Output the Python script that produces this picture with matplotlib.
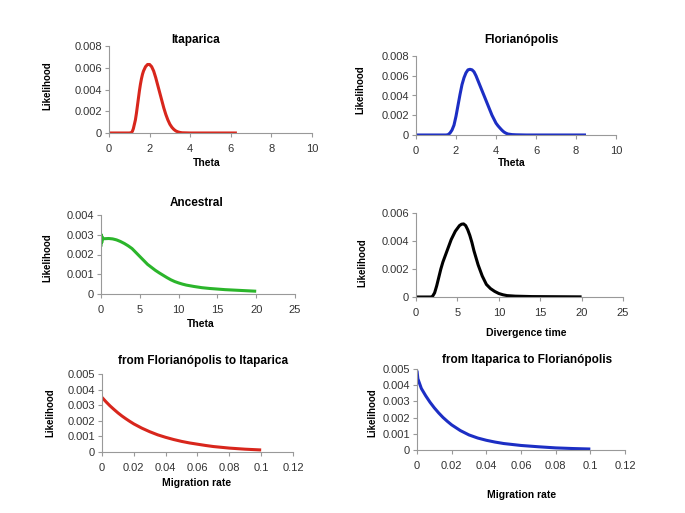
import numpy as np
import matplotlib
matplotlib.use("Agg")
import matplotlib.pyplot as plt

plt.rc("font", family=["Liberation Sans", "DejaVu Sans"])

# Itaparica theta
ita_theta = [0, 1.0, 1.1, 1.15, 1.2, 1.25, 1.3, 1.35, 1.4, 1.45, 1.5, 1.55, 1.6, 1.65, 1.7, 1.75,
             1.8, 1.9, 2.0, 2.1, 2.2, 2.3, 2.4, 2.5, 2.6, 2.7, 2.8, 2.9, 3.0, 3.1, 3.2, 3.3, 3.4,
             3.5, 3.6, 4.0, 6.3]
ita_lik = [0, 0, 0.00003, 0.00015, 0.0004, 0.0008, 0.0012, 0.0018, 0.0025, 0.0032, 0.0039, 0.0045,
           0.0050, 0.0054, 0.0057, 0.0059, 0.0061, 0.0063, 0.0063, 0.0061, 0.0057, 0.0051, 0.0044,
           0.0037, 0.0030, 0.0023, 0.0017, 0.0012, 0.0008, 0.00052, 0.00032, 0.00018, 0.0001,
           0.00005, 0.00002, 0, 0]

# Florianopolis theta
flo_theta = [0, 1.5, 1.6, 1.7, 1.8, 1.9, 2.0, 2.1, 2.2, 2.3, 2.4, 2.5, 2.6, 2.7, 2.8, 2.9, 3.0,
             3.1, 3.2, 3.3, 3.4, 3.5, 3.6, 3.7, 3.8, 3.9, 4.0, 4.1, 4.2, 4.3, 4.4, 4.5, 4.6, 4.8,
             5.0, 5.5, 8.5]
flo_lik = [0, 0, 0.00003, 0.0002, 0.0005, 0.0010, 0.0019, 0.0030, 0.0041, 0.0051, 0.0058, 0.0063,
           0.0066, 0.00665, 0.0066, 0.0064, 0.0060, 0.0055, 0.0050, 0.0045, 0.0040, 0.0035,
           0.0030, 0.0025, 0.0020, 0.0016, 0.0012, 0.00093, 0.0007, 0.00048, 0.0003, 0.00018,
           0.0001, 0.00004, 0.00002, 0, 0]

# Ancestral theta
anc_theta = [0, 0.05, 0.1, 0.15, 0.2, 0.5, 1, 1.5, 2, 2.5, 3, 3.5, 4, 4.5, 5, 5.5, 6, 6.5, 7,
             7.5, 8, 8.5, 9, 9.5, 10, 10.5, 11, 12, 13, 14, 15, 16, 17, 18, 19, 20]
anc_lik = [0.0024, 0.0030, 0.0026, 0.0029, 0.0028, 0.0028, 0.00281, 0.00279, 0.00274, 0.00266,
           0.00256, 0.00244, 0.0023, 0.0021, 0.0019, 0.0017, 0.0015, 0.00135, 0.0012, 0.00107,
           0.00095, 0.00083, 0.00072, 0.00063, 0.00056, 0.0005, 0.00045, 0.00038, 0.00032,
           0.00028, 0.00025, 0.00022, 0.0002, 0.00018, 0.00016, 0.00014]

# Divergence time
div_t = [0, 1.8, 2.0, 2.25, 2.5, 2.75, 3.0, 3.25, 3.5, 3.75, 4.0, 4.25, 4.5, 4.75, 5.0, 5.25,
         5.5, 5.75, 6.0, 6.25, 6.5, 6.75, 7.0, 7.25, 7.5, 7.75, 8.0, 8.5, 9.0, 9.5, 10, 10.5,
         11, 12, 14, 17, 20]
div_lik = [0, 0, 0.00005, 0.0003, 0.0008, 0.0014, 0.0020, 0.0025, 0.0029, 0.0033, 0.0037,
           0.0041, 0.0044, 0.0047, 0.0049, 0.0051, 0.0052, 0.00522, 0.0051, 0.0048, 0.0044,
           0.0039, 0.0033, 0.0028, 0.0023, 0.0019, 0.0015, 0.0009, 0.0006, 0.0004, 0.00025,
           0.00016, 0.0001, 0.00006, 0.00003, 0.00002, 0.00001]

# Migration Florianopolis -> Itaparica
m_fi = [0, 0.0025, 0.005, 0.0075, 0.01, 0.0125, 0.015, 0.0175, 0.02, 0.025, 0.03, 0.035, 0.04,
        0.045, 0.05, 0.055, 0.06, 0.065, 0.07, 0.075, 0.08, 0.09, 0.1]
lik_fi = [0.0035, 0.00322, 0.00296, 0.00273, 0.00251, 0.00231, 0.00213, 0.00196, 0.0018,
          0.00153, 0.0013, 0.0011, 0.00094, 0.0008, 0.00068, 0.00058, 0.0005, 0.00042, 0.00035,
          0.0003, 0.00025, 0.00018, 0.00013]

# Migration Itaparica -> Florianopolis
m_if = [0, 0.0005, 0.0025, 0.005, 0.0075, 0.01, 0.0125, 0.015, 0.0175, 0.02, 0.025, 0.03, 0.035,
        0.04, 0.045, 0.05, 0.055, 0.06, 0.07, 0.08, 0.09, 0.1]
lik_if = [0.0049, 0.0044, 0.0038, 0.00335, 0.00295, 0.0026, 0.00229, 0.00201, 0.00177, 0.00155,
          0.0012, 0.00093, 0.00074, 0.0006, 0.00049, 0.0004, 0.00034, 0.00028, 0.0002, 0.00013,
          0.00009, 0.00006]

W, H = 685, 513
fig = plt.figure(figsize=(W / 100, H / 100), dpi=100)


def box(l, t, r, b):
    return [l / W, 1 - b / H, (r - l) / W, (b - t) / H]


def ptxt(x, y, s, **kw):
    fig.text(x / W, 1 - y / H, s, ha="center", va="center", fontweight="bold", **kw)


panels = [
    # axes box, x, y, colour, xticks, yticks, title, xlabel, title pos, xlabel pos, ylabel pos, ytick labels
    (box(109, 46, 312, 133), ita_theta, ita_lik, "#d8261c", np.arange(0, 11, 2), np.arange(0, 0.0081, 0.002),
     "Itaparica", "Theta", (196, 40), (207, 163), (47, 86), ["0", "0.002", "0.004", "0.006", "0.008"]),
    (box(416, 56, 616, 135), flo_theta, flo_lik, "#1c2ec4", np.arange(0, 11, 2), np.arange(0, 0.0081, 0.002),
     "Florianópolis", "Theta", (521, 40), (512, 163), (360, 90), ["0", "0.002", "0.004", "0.006", "0.008"]),
    (box(101, 215, 295, 294), anc_theta, anc_lik, "#2bb52b", np.arange(0, 26, 5), np.arange(0, 0.00401, 0.001),
     "Ancestral", "Theta", (197, 203), (201, 324), (47, 258), ["0", "0.001", "0.002", "0.003", "0.004"]),
    (box(416, 213, 623, 297), div_t, div_lik, "#000000", np.arange(0, 26, 5), np.arange(0, 0.0061, 0.002),
     None, "Divergence time", None, (526, 333), (362, 263), ["0", "0.002", "0.004", "0.006"]),
    (box(102, 374, 293, 452), m_fi, lik_fi, "#d8261c", np.arange(0, 0.121, 0.02), np.arange(0, 0.00501, 0.001),
     "from Florianópolis to Itaparica", "Migration rate", (203, 361), (197, 483), (50, 413),
     ["0", "0.001", "0.002", "0.003", "0.004", "0.005"]),
    (box(417, 369, 625, 450), m_if, lik_if, "#1c2ec4", np.arange(0, 0.121, 0.02), np.arange(0, 0.00501, 0.001),
     "from Itaparica to Florianópolis", "Migration rate", (527, 360), (522, 495), (372, 413),
     ["0", "0.001", "0.002", "0.003", "0.004", "0.005"]),
]

xtick_labels = {
    10: ["0", "2", "4", "6", "8", "10"],
    25: ["0", "5", "10", "15", "20", "25"],
    0.12: ["0", "0.02", "0.04", "0.06", "0.08", "0.1", "0.12"],
}

for rect, x, y, col, xt, yt, title, xlab, tpos, xlpos, ylpos, ylabs in panels:
    ax = fig.add_axes(rect)
    ax.plot(x, y, color=col, lw=2.2, solid_capstyle="butt", solid_joinstyle="round")
    ax.set_xlim(xt[0], xt[-1])
    ax.set_ylim(yt[0], yt[-1])
    ax.set_xticks(xt)
    key = 0.12 if xt[-1] < 1 else int(round(xt[-1]))
    ax.set_xticklabels(xtick_labels[key])
    ax.set_yticks(yt)
    ax.set_yticklabels(ylabs)
    for s in ["top", "right"]:
        ax.spines[s].set_visible(False)
    for s in ["left", "bottom"]:
        ax.spines[s].set_color("#999999")
        ax.spines[s].set_linewidth(0.8)
    ax.tick_params(length=3, width=0.8, color="#999999", labelsize=8, labelcolor="#333333", pad=2)
    ax.tick_params(axis="x", pad=5)
    ax.patch.set_alpha(0)
    if title:
        ptxt(tpos[0], tpos[1], title, fontsize=8.5)
    ptxt(xlpos[0], xlpos[1], xlab, fontsize=7.5)
    ptxt(ylpos[0], ylpos[1], "Likelihood", fontsize=7, rotation=90)

fig.savefig("out.png", dpi=100)
